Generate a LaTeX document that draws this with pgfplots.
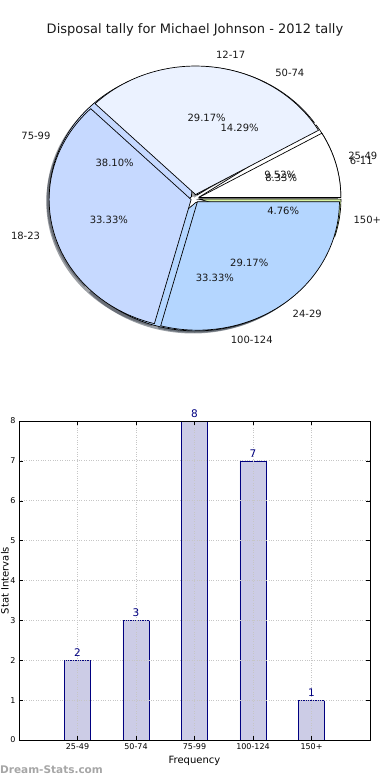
\documentclass[border=0pt]{standalone}
\usepackage{pgfplots}
\pgfplotsset{compat=1.18}
\usepackage{fontspec}
\setmainfont{DejaVu Sans}
\definecolor{pwhite}{HTML}{FFFFFF}
\definecolor{ppale}{HTML}{EBF2FF}
\definecolor{plight}{HTML}{C6D9FF}
\definecolor{pblue}{HTML}{B4D6FF}
\definecolor{pgreen}{HTML}{D8F2A0}
\definecolor{barfill}{HTML}{CCCCE6}
\definecolor{navy}{HTML}{000080}

% pie geometry (in pixels of the pie axis)
\def\pcx{195}\def\pcy{198.5}\def\prx{142}\def\pry{128.5}\def\pex{4}

% data: value/label/colour/percent
\def\pieone{2/6-11/pwhite/8.33, 7/12-17/ppale/29.17, 8/18-23/plight/33.33, 7/24-29/pblue/29.17}
\def\pietwo{2/25-49/pwhite/9.52, 3/50-74/ppale/14.29, 8/75-99/plight/38.10, 7/100-124/pblue/33.33, 1/150+/pgreen/4.76}

% #1 total, #2 mode (0 shadow, 1 wedge, 2 text), #3 list macro
\newcommand\piepass[3]{%
  \gdef\piecum{0}%
  \foreach \pval/\plab/\pcol/\ppct in #3 {%
    \pgfmathsetmacro\pa{360*\piecum/#1}%
    \pgfmathsetmacro\pb{360*(\piecum+\pval)/#1}%
    \pgfmathsetmacro\pmid{(\pa+\pb)/2}%
    \pgfmathsetmacro\pox{\pcx+\pex*cos(\pmid)}%
    \pgfmathsetmacro\poy{\pcy-\pex*sin(\pmid)}%
    \ifcase#2
      \pgfmathsetmacro\psx{\pox-2.84}%
      \pgfmathsetmacro\psy{\poy+2.57}%
      \edef\tmp{\noexpand\fill[fill=\pcol!30!black, opacity=0.5] (axis cs:\psx,\psy) -- ++(\pa:\prx pt and \pry pt) arc[start angle=\pa, end angle=\pb, x radius=\prx pt, y radius=\pry pt] -- cycle;}\tmp
    \or
      \edef\tmp{\noexpand\filldraw[fill=\pcol, draw=black, line width=0.7pt, line join=round] (axis cs:\pox,\poy) -- ++(\pa:\prx pt and \pry pt) arc[start angle=\pa, end angle=\pb, x radius=\prx pt, y radius=\pry pt] -- cycle;}\tmp
    \or
      \pgfmathsetmacro\pcs{cos(\pmid)}%
      \ifdim\pcs pt>0pt \def\anc{west}\else\def\anc{east}\fi
      \pgfmathsetmacro\plx{\pox+1.1*\prx*cos(\pmid)}%
      \pgfmathsetmacro\ply{\poy-1.1*\pry*sin(\pmid)}%
      \pgfmathsetmacro\ptx{\pox+0.6*\prx*cos(\pmid)}%
      \pgfmathsetmacro\pty{\poy-0.6*\pry*sin(\pmid)}%
      \edef\tmp{\noexpand\node[anchor=\anc, inner sep=0pt, font=\noexpand\fontsize{10}{12}\noexpand\selectfont, text=black!90] at (axis cs:\plx,\ply) {\plab};
        \noexpand\node[anchor=center, inner sep=0pt, font=\noexpand\fontsize{10}{12}\noexpand\selectfont, text=black!90] at (axis cs:\ptx,\pty) {\ppct\noexpand\%};}\tmp
    \fi
    \pgfmathsetmacro\pnew{\piecum+\pval}\xdef\piecum{\pnew}%
  }}

\begin{document}
\begin{tikzpicture}
\path[use as bounding box] (0pt,0pt) rectangle (390pt,-780pt);

% ---------- pie chart ----------
\begin{axis}[at={(0pt,0pt)}, anchor=north west, scale only axis,
  width=390pt, height=400pt, xmin=0, xmax=390, ymin=0, ymax=400,
  y dir=reverse, hide axis, clip=false]
\addplot[draw=none] coordinates {(0,0)};
\node[font=\fontsize{13}{15}\selectfont, text=black!90] at (axis cs:195,30) {Disposal tally for Michael Johnson - 2012 tally};
\piepass{21}{0}{\pietwo}
\piepass{24}{0}{\pieone}
\piepass{21}{1}{\pietwo}
\piepass{24}{1}{\pieone}
\piepass{24}{2}{\pieone}
\piepass{21}{2}{\pietwo}
\end{axis}

% ---------- bar chart ----------
\begin{axis}[at={(19pt,-421pt)}, anchor=north west, scale only axis,
  width=351pt, height=319pt,
  xmin=0, xmax=6, ymin=0, ymax=8,
  ybar, bar width=0.45,
  xtick={1,2,3,4,5}, xticklabels={25-49,50-74,75-99,100-124,150+},
  ytick={0,1,...,8},
  grid=major, grid style={dotted, gray!45, line width=0.9pt},
  axis on top, clip=false,
  tick align=inside, major tick length=4pt,
  tick style={black, line width=0.5pt},
  axis line style={line width=0.8pt},
  /pgf/number format/assume math mode=true,
  ticklabel style={font=\fontsize{8}{9}\selectfont},
  xlabel={Frequency}, ylabel={Stat Intervals},
  label style={font=\fontsize{10}{12}\selectfont},
  xlabel style={at={(axis description cs:0.5,-0.066)}, anchor=center},
  ylabel style={at={(axis description cs:-0.040,0.5)}, anchor=center},
  nodes near coords,
  nodes near coords style={font=\fontsize{10.5}{12}\selectfont, text=navy},
]
\addplot[fill=barfill, draw=navy, line width=0.6pt] coordinates {(1,2) (2,3) (3,8) (4,7) (5,1)};
\end{axis}

\node[anchor=west, inner sep=0pt, font=\bfseries\fontsize{10.5}{12}\selectfont, text=gray!70] at (0pt,-770pt) {Dream-Stats.com};
\end{tikzpicture}
\end{document}
